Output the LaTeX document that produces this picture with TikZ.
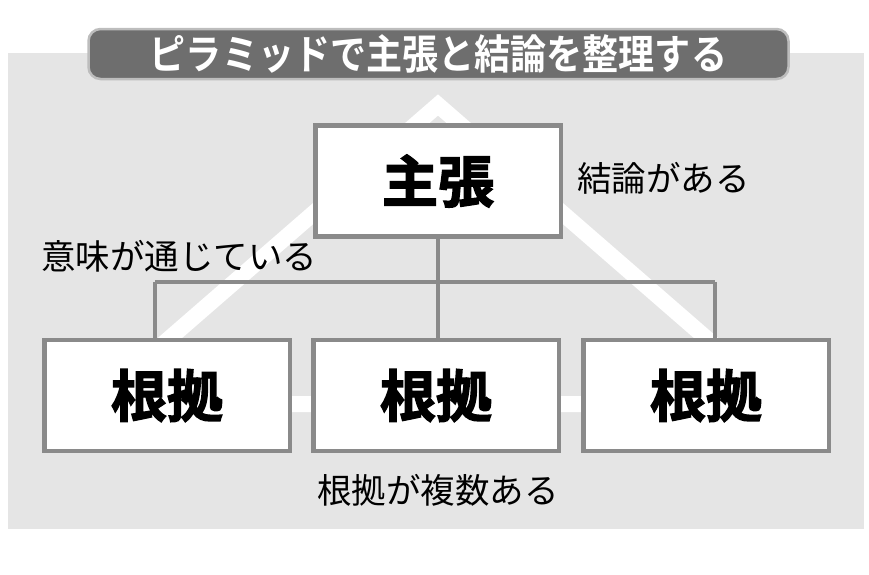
\documentclass[tikz,border=0pt]{standalone}
\usepackage{fontspec}
\setmainfont{Noto Sans CJK JP}[BoldFont={Noto Sans CJK JP Bold}]
\newfontfamily\heavyfont{Noto Sans CJK JP Bold}[FakeBold=2.5]
\definecolor{panelgray}{HTML}{E5E5E5}
\definecolor{titlefill}{HTML}{6E6E6E}
\definecolor{titleedge}{HTML}{BDBDBD}
\definecolor{edgegray}{HTML}{8A8A8A}
\tikzset{
  titlebox/.style={rounded corners=12pt, fill=titlefill, draw=titleedge, line width=2.5pt,
    minimum width=700pt, minimum height=50pt, text=white, inner sep=0pt,
    font=\fontsize{41}{44}\selectfont\bfseries},
  bigbox/.style={draw=edgegray, fill=white, line width=4.5pt, minimum width=245.5pt,
    minimum height=111pt, inner sep=0pt, font=\fontsize{56}{60}\selectfont\heavyfont},
  conn/.style={draw=edgegray, line width=4pt},
  lbl/.style={inner sep=0pt, text=black, font=\fontsize{34.5}{38}\selectfont},
}
\begin{document}
\begin{tikzpicture}[x=1pt,y=-1pt]
\useasboundingbox (0,0) rectangle (869,574);
\fill[panelgray] (8,53) rectangle (864,529);
\node[titlebox] (title) at (438.5,54) {\scalebox{0.88}[1]{ピラミッドで主張と結論を整理する}};
\draw[white, line width=16pt, line join=miter] (94,404) -- (438,105) -- (782,404) -- cycle;
\coordinate (jl) at (155,282);
\coordinate (jr) at (715,282);
\node[bigbox] (main) at (438,181) {主張};
\node[bigbox] (l) at (167,395.5) {根拠};
\node[bigbox] (m) at (436,395.5) {根拠};
\node[bigbox] (r) at (706,395.5) {根拠};
\draw[conn] (main.south) -- (main.south |- jl);
\draw[conn] (jl) -- (jr);
\draw[conn] (jl) -- (jl |- l.north);
\draw[conn] (main.south |- jl) -- (main.south |- m.north);
\draw[conn] (jr) -- (jr |- r.north);
\node[lbl, anchor=west] (t1) at (577,178) {結論がある};
\node[lbl, anchor=west] (t2) at (41,256) {意味が通じている};
\node[lbl] (t3) at (438,490) {根拠が複数ある};
\end{tikzpicture}
\end{document}
